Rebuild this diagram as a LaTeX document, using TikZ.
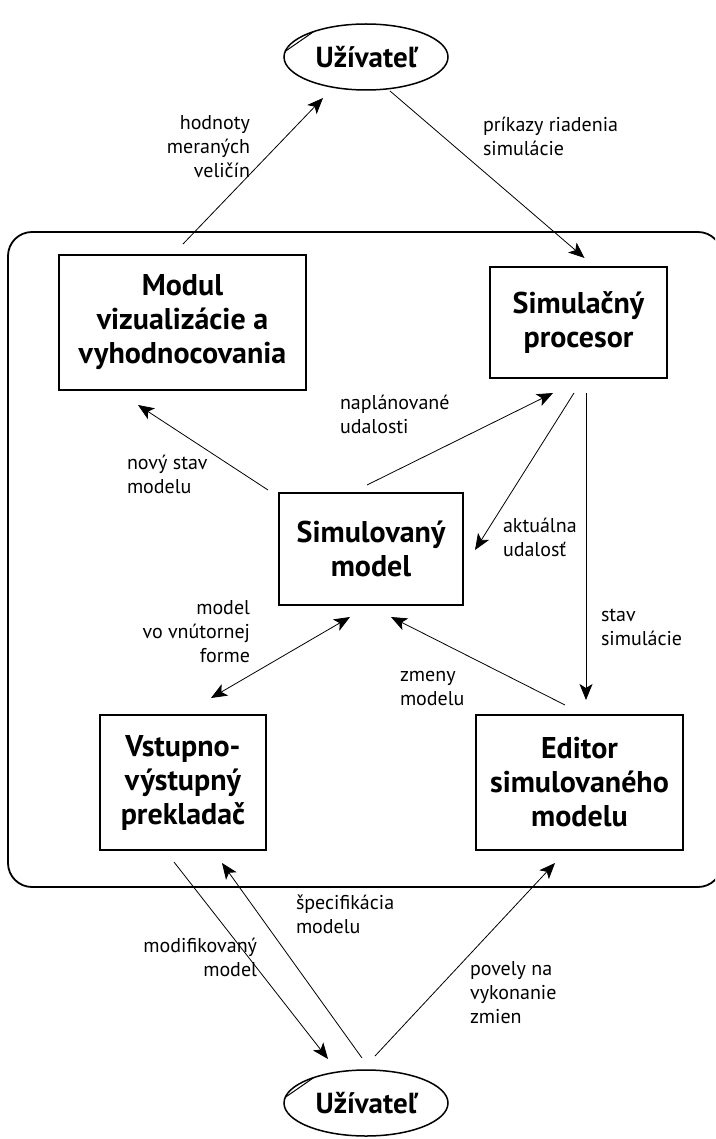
\documentclass[tikz,border=0pt]{standalone}
\usepackage{fontspec}
\setmainfont{PT Sans}
\usetikzlibrary{arrows.meta,shapes.geometric,calc}
\begin{document}
\begin{tikzpicture}[x=1pt,y=-1pt,
  every node/.style={inner sep=0pt,outer sep=0pt},
  blok/.style={draw,line width=1.8pt,align=center,font=\fontsize{30}{34}\selectfont\bfseries},
  actor/.style={draw,ellipse,line width=1.5pt,minimum width=164pt,minimum height=66pt,font=\fontsize{29}{34}\selectfont\bfseries},
  lbl/.style={font=\fontsize{20}{24}\selectfont},
  lbll/.style={lbl,align=left,anchor=west},
  lblr/.style={lbl,align=right,anchor=east},
  arr/.style={line width=0.8pt,-{Stealth[length=16pt,width=13pt,inset=4pt]}},
  darr/.style={line width=0.8pt,{Stealth[length=16pt,width=13pt,inset=4pt]}-{Stealth[length=16pt,width=13pt,inset=4pt]}},
]
\clip (0,0) rectangle (715,1139);
\fill[white] (0,0) rectangle (715,1139);

% system boundary
\draw[line width=1.8pt,rounded corners=24pt] (8,232) rectangle (722,887);

% blocks
\node[blok,minimum width=247pt,minimum height=135pt] (modul) at (182.5,322.5) {Modul\\vizualizácie a\\vyhodnocovania};
\node[blok,minimum width=177pt,minimum height=111pt] (proc) at (578.5,322.5) {Simulačný\\procesor};
\node[blok,minimum width=184pt,minimum height=112pt] (model) at (371,549) {Simulovaný\\model};
\node[blok,minimum width=166pt,minimum height=135pt] (io) at (183,782.5) {Vstupno-\\výstupný\\prekladač};
\node[blok,minimum width=207pt,minimum height=135pt] (ed) at (579.5,782.5) {Editor\\simulovaného\\modelu};

% users
\node[actor] (topu) at (366,57) {Užívateľ};
\node[actor] (botu) at (366,1103) {Užívateľ};
\draw[line width=1pt] (topu.176) -- (topu.154);
\draw[line width=1pt] (botu.176) -- (botu.154);

% connectors
\draw[arr] ($(modul.north)+(0.5,-11)$) -- ($(topu.south)+(-43,8)$);
\draw[arr] ($(topu.south)+(24,1)$) -- ($(proc.north)+(6,-9)$);
\draw[arr] ($(model.north west)+(-11,-3)$) -- ($(modul.south)+(-44.5,15)$);
\draw[arr] ($(model.north)+(-4,-8)$) -- ($(proc.south)+(-25.5,15)$);
\draw[arr] ($(proc.south)+(-4.5,15)$) -- ($(model.east)+(12,1)$);
\draw[arr] ($(proc.south)+(7.5,15)$) -- ($(ed.north)+(6.5,-15)$);
\draw[arr] ($(ed.north)+(-14.5,-10)$) -- ($(model.south)+(20,12)$);
\draw[darr] ($(io.north)+(28,-17)$) -- ($(model.south)+(-21,12)$);
\draw[arr] ($(io.south)+(-9,12)$) -- ($(botu.north)+(-38,-11)$);
\draw[arr] ($(botu.north)+(-4,-12)$) -- ($(io.south)+(39,13)$);
\draw[arr] ($(botu.north)+(9,-14)$) -- ($(ed.south)+(-24.5,13)$);

% labels
\node[lblr] (l1) at (250,147) {hodnoty\\meraných\\veličín};
\node[lbll] (l2) at (483,136) {príkazy riadenia\\simulácie};
\node[lbll] (l3) at (340,414) {naplánované\\udalosti};
\node[lbll] (l4) at (127,474) {nový stav\\modelu};
\node[lbll] (l5) at (503,537) {aktuálna\\udalosť};
\node[lbll] (l6) at (601,627) {stav\\simulácie};
\node[lblr] (l7) at (250,632) {model\\vo vnútornej\\forme};
\node[lbll] (l8) at (400,688) {zmeny\\modelu};
\node[lbll] (l9) at (296,914) {špecifikácia\\modelu};
\node[lblr] (l10) at (257,957) {modifikovaný\\model};
\node[lbll] (l11) at (470,993) {povely na\\vykonanie\\zmien};
\end{tikzpicture}
\end{document}
